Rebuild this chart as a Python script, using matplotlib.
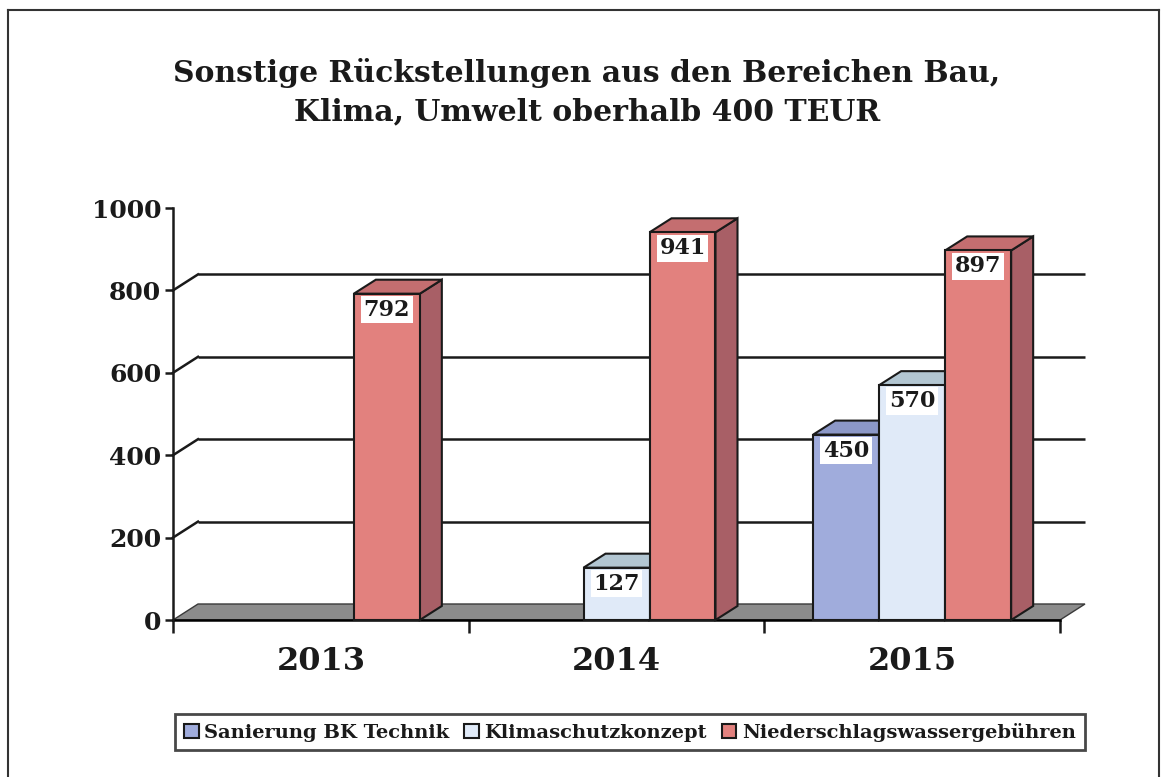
import matplotlib
matplotlib.use("Agg")
import matplotlib.pyplot as plt
from matplotlib.patches import Polygon, Patch
from matplotlib.lines import Line2D
import matplotlib.transforms as mtrans

# ---------------- data ----------------
years = ['2013', '2014', '2015']
series = ['Sanierung BK Technik', 'Klimaschutzkonzept', 'Niederschlagswassergebühren']
sanierung = [None, None, 450]
klima = [None, 127, 570]
nieder = [792, 941, 897]
yticks = [0, 200, 400, 600, 800, 1000]
title = 'Sonstige Rückstellungen aus den Bereichen Bau,\nKlima, Umwelt oberhalb 400 TEUR'

# colours: front, side, top
colors = [
    ('#a0acdc', '#7b87b9', '#8c98c8'),
    ('#e0eaf8', '#b3c3d2', '#b2c6d2'),
    ('#e2817e', '#a85f66', '#c46e70'),
]
values = [sanierung, klima, nieder]

FONT = 'DejaVu Serif'
W, H = 1163, 777
fig = plt.figure(figsize=(W / 100, H / 100), dpi=100)
fig.patch.set_facecolor('white')

x0px, x1px, y0px, y1px = 173, 1060, 620, 208
ax = fig.add_axes([x0px / W, (H - y0px) / H, (x1px - x0px) / W, (y0px - y1px) / H])
ax.set_xlim(-0.5, 2.5)
ax.set_ylim(0, 1000)
ax.patch.set_visible(False)

pxx = (x1px - x0px) / 3.0
pxy = (y0px - y1px) / 1000.0
dxw, dyw = 25 / pxx, 16 / pxy     # wall depth
dxb, dyb = 22 / pxx, 14 / pxy     # bar depth
bw = 66 / pxx

# floor
floor = Polygon([(-0.5, 0), (2.5, 0), (2.5 + dxw, dyw), (-0.5 + dxw, dyw)],
                closed=True, facecolor='#8c8c8c', edgecolor='#3a3a3a', lw=1.0,
                zorder=1, clip_on=False)
ax.add_patch(floor)
ax.plot([-0.5, 2.5], [0, 0], color='black', lw=1.8, zorder=2, clip_on=False)

# back gridlines and diagonal connectors
for v in yticks[1:-1]:
    ax.plot([-0.5 + dxw, 2.5 + dxw], [v + dyw, v + dyw], color='#1a1a1a', lw=1.8,
            zorder=1, clip_on=False, solid_capstyle='butt')
    ax.plot([-0.5, -0.5 + dxw], [v, v + dyw], color='#1a1a1a', lw=1.8,
            zorder=1, clip_on=False)

# bars
for si, vals in enumerate(values):
    front, side, top = colors[si]
    for ci, v in enumerate(vals):
        if v is None:
            continue
        xl = ci + (si - 1) * bw - bw / 2
        xr = xl + bw
        z = 3 + ci * 3 + si
        ax.add_patch(Polygon([(xr, 0), (xr + dxb, dyb), (xr + dxb, v + dyb), (xr, v)],
                             closed=True, facecolor=side, edgecolor='#1a1a1a', lw=1.5,
                             zorder=z, clip_on=False))
        ax.add_patch(Polygon([(xl, v), (xr, v), (xr + dxb, v + dyb), (xl + dxb, v + dyb)],
                             closed=True, facecolor=top, edgecolor='#1a1a1a', lw=1.5,
                             zorder=z, clip_on=False))
        ax.add_patch(Polygon([(xl, 0), (xr, 0), (xr, v), (xl, v)],
                             closed=True, facecolor=front, edgecolor='#1a1a1a', lw=1.5,
                             zorder=z, clip_on=False))
        ax.annotate(str(v), xy=((xl + xr) / 2, v), xytext=(0, -11.5),
                    textcoords='offset points', ha='center', va='center',
                    fontsize=16, fontweight='bold', family=FONT, color='#1a1a1a',
                    bbox=dict(boxstyle='square,pad=0.12', facecolor='white', edgecolor='none'),
                    zorder=z + 0.5, annotation_clip=False)

# axes styling
for s in ['top', 'right', 'bottom']:
    ax.spines[s].set_visible(False)
ax.spines['left'].set_linewidth(1.8)
ax.spines['left'].set_color('#1a1a1a')
ax.spines['left'].set_bounds(0, 1000)
ax.set_yticks(yticks)
ax.set_yticklabels([str(t) for t in yticks], fontsize=18, fontweight='bold', family=FONT,
                   color='#1a1a1a')
ax.tick_params(axis='y', length=6, width=1.8, pad=2.5, color='#1a1a1a')
ax.set_xticks([-0.5, 0.5, 1.5, 2.5])
ax.set_xticklabels([])
ax.tick_params(axis='x', length=9, width=1.8, color='#1a1a1a')

trans = mtrans.blended_transform_factory(ax.transData, ax.transAxes)
for ci, yr in enumerate(years):
    ax.text(ci, (y0px - 662) / (y0px - y1px), yr, transform=trans, ha='center', va='center',
            fontsize=23, fontweight='bold', family=FONT, color='#1a1a1a')

# title
fig.text(587 / W, 1 - 92 / H, title, ha='center', va='center', fontsize=21.5,
         fontweight='bold', family=FONT, color='#1a1a1a', linespacing=1.4)

# legend
handles = [Patch(facecolor=c[0], edgecolor='#1a1a1a', lw=1.5) for c in colors]
leg = fig.legend(handles, series, loc='center', bbox_to_anchor=(630 / W, 1 - 732 / H),
                 ncol=3, frameon=True, fancybox=False, edgecolor='#1a1a1a',
                 handlelength=0.75, handleheight=0.75, handletextpad=0.3,
                 columnspacing=0.75, borderpad=0.45,
                 prop={'family': FONT, 'size': 14, 'weight': 'bold'})
leg.get_frame().set_linewidth(2.0)
for t in leg.get_texts():
    t.set_color('#1a1a1a')

# outer frame
for xs, ys in [((8, 8), (10, 777)), ((8, 1159), (10, 10)), ((1159, 1159), (10, 777))]:
    fig.add_artist(Line2D([x / W for x in xs], [1 - y / H for y in ys],
                          transform=fig.transFigure, color='#333333', lw=1.5))

fig.savefig('out.png', dpi=100)
